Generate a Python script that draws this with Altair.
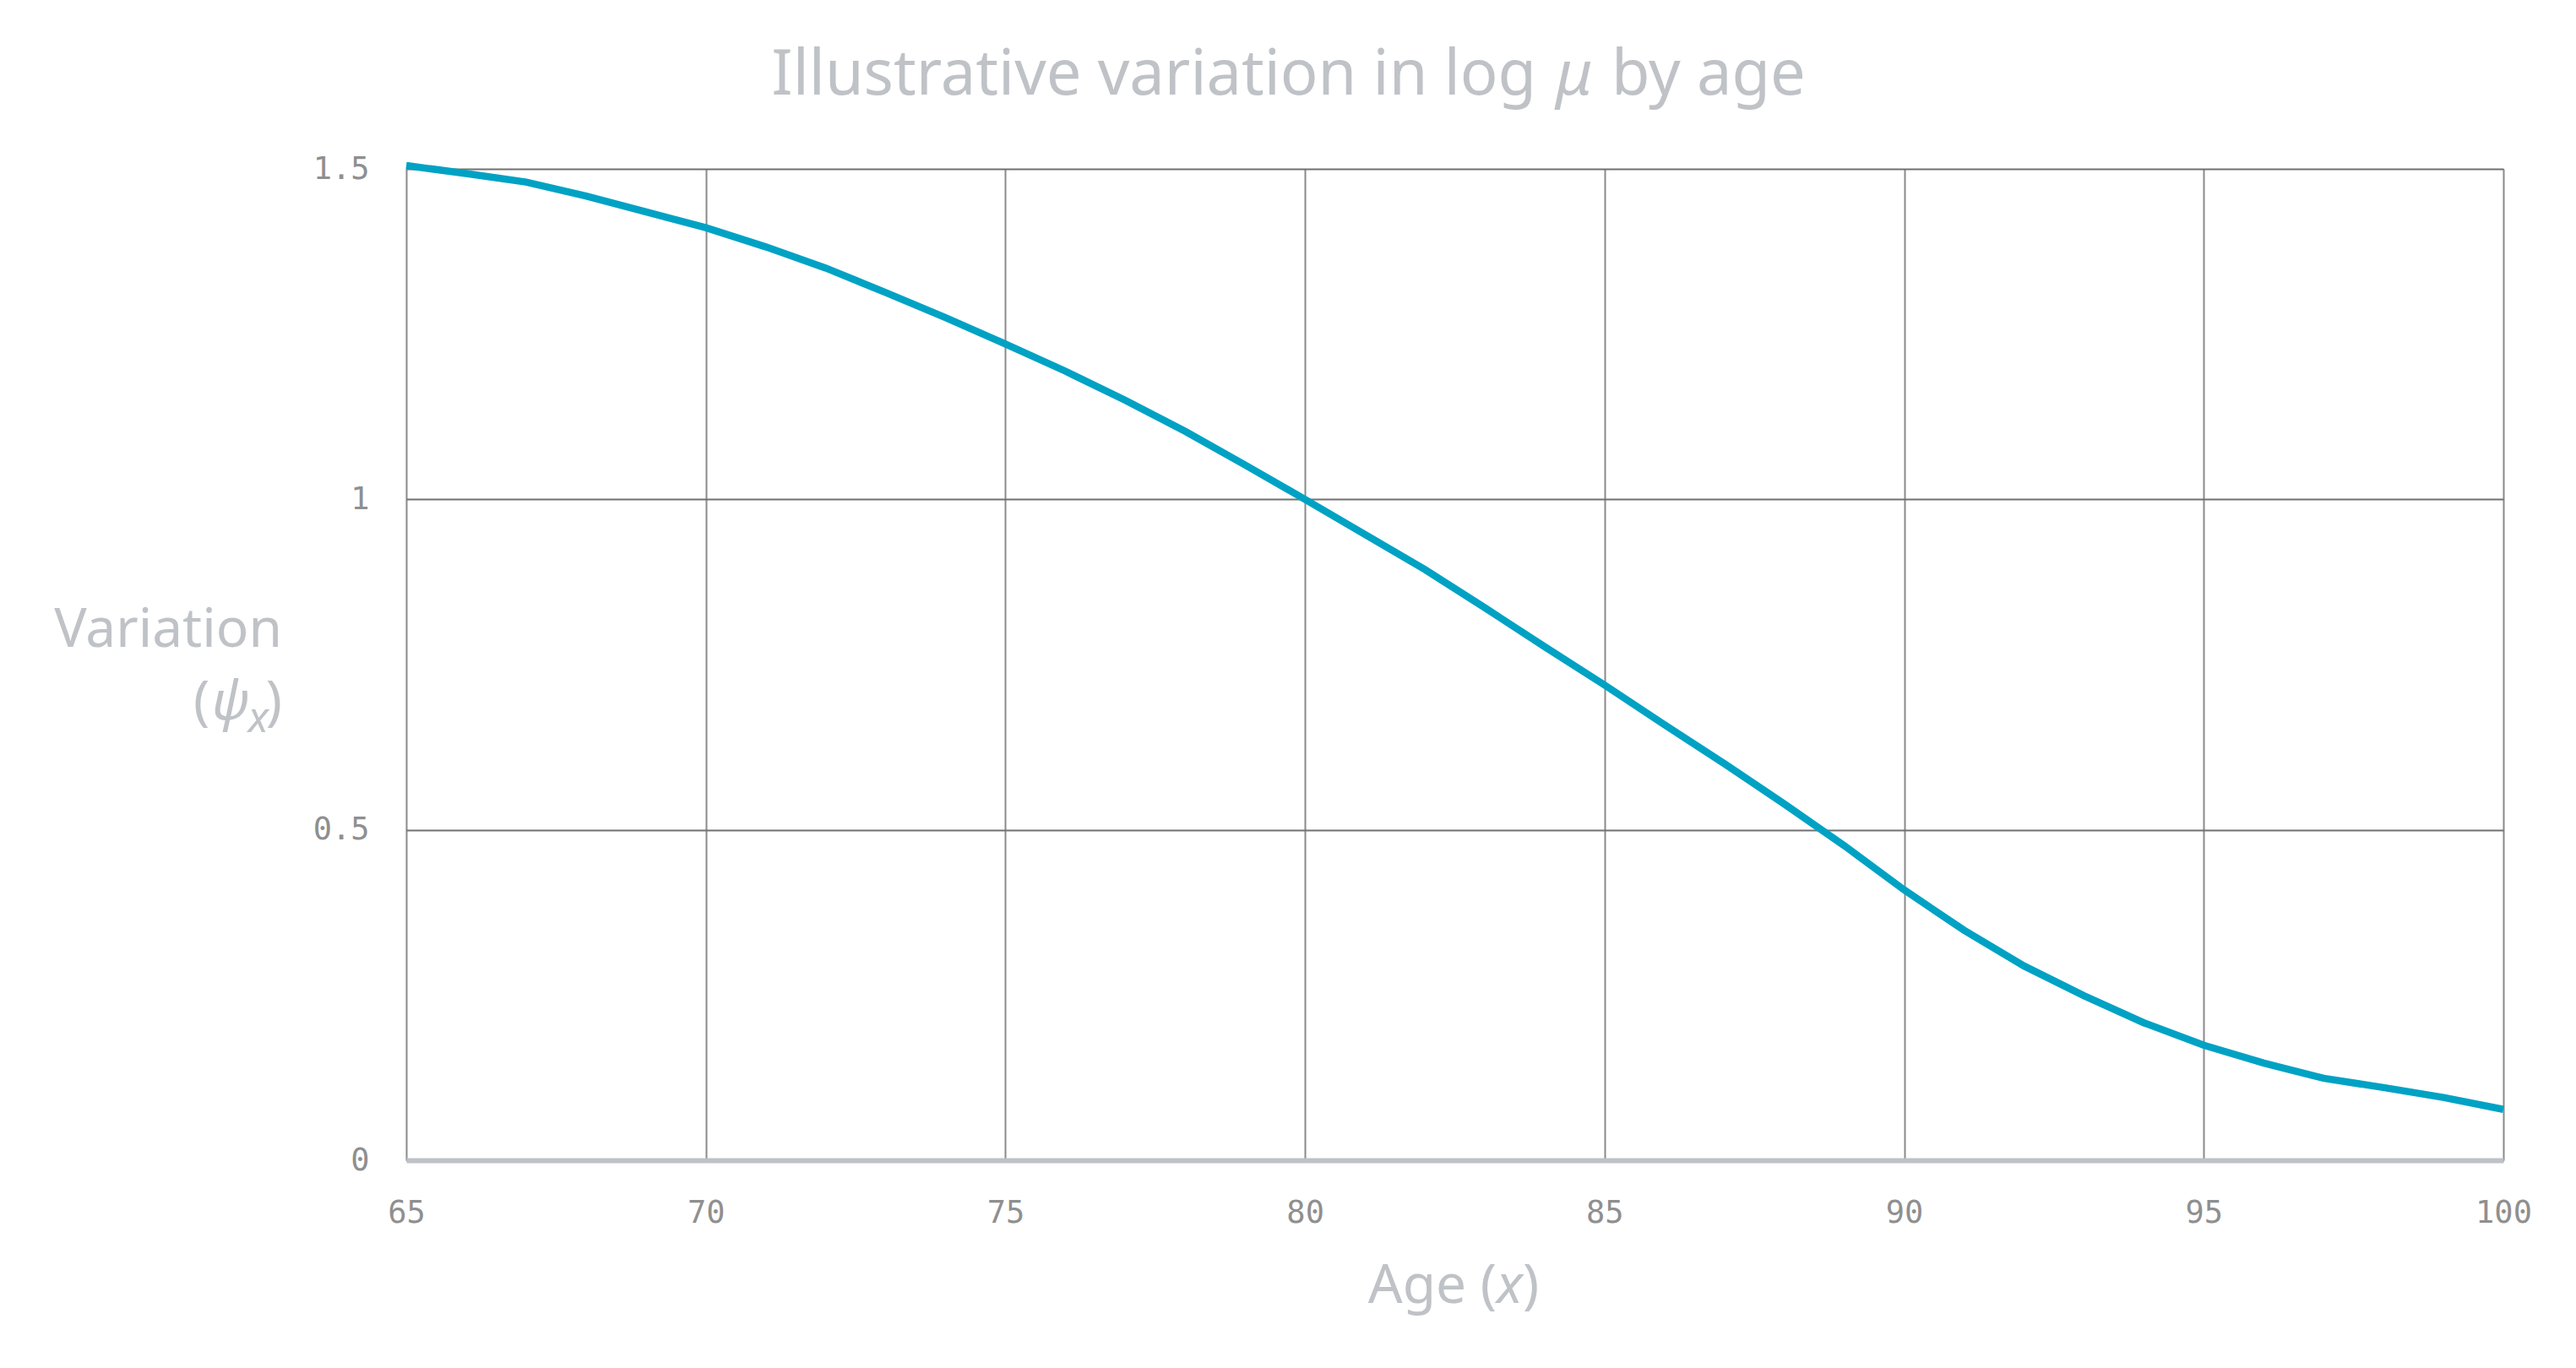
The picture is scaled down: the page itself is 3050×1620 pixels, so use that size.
import altair as alt
import pandas as pd

# ---- data ----
ages = list(range(65, 101))
psi = [1.505, 1.493, 1.480, 1.459, 1.435, 1.411, 1.382, 1.350, 1.313, 1.275,
       1.235, 1.194, 1.150, 1.103, 1.052, 1.000, 0.947, 0.894, 0.836, 0.777,
       0.719, 0.659, 0.600, 0.539, 0.476, 0.409, 0.348, 0.294, 0.249, 0.208,
       0.174, 0.147, 0.124, 0.110, 0.095, 0.077]
x_ticks = [65, 70, 75, 80, 85, 90, 95, 100]
y_ticks = [0, 0.5, 1, 1.5]

title_parts = ["Illustrative variation in log", "μ", "by age"]
xtitle_parts = ["Age (", "x", ")"]
ytitle_parts = ["Variation", "(", "ψ", "x", ")"]

LINE = "#00A2C4"
TXT = "#BFC2C6"
TICK = "#8F8F8F"
SANS = "Noto Sans"
MONO = "DejaVu Sans Mono"

W, H = 2483, 1174

df = pd.DataFrame({"age": ages, "psi": psi})

line = alt.Chart(df).mark_line(color=LINE, strokeWidth=8.5).encode(
    x=alt.X("age:Q", scale=alt.Scale(domain=[65, 100], nice=False, zero=False),
            axis=alt.Axis(values=x_ticks, title=None, ticks=False, labelPadding=44,
                          labelFlush=False,
                          labelFont=MONO, labelFontSize=37, labelColor=TICK,
                          domainColor="#BEC1C5", domainWidth=6,
                          grid=True, gridColor="#8A8A8A", gridWidth=2)),
    y=alt.Y("psi:Q", scale=alt.Scale(domain=[0, 1.5], nice=False),
            axis=alt.Axis(values=y_ticks, title=None, ticks=False, labelPadding=44,
                          format="~g", domain=False,
                          labelFont=MONO, labelFontSize=37, labelColor=TICK,
                          grid=True, gridColor="#707070", gridWidth=2)),
)


def txt(text, x, y, size, align="left", style="normal"):
    return alt.Chart(pd.DataFrame({"t": [text]})).mark_text(
        font=SANS, fontSize=size, fontStyle=style, align=align,
        baseline="alphabetic", color=TXT
    ).encode(x=alt.value(x), y=alt.value(y), text="t:N")


layers = [
    line,
    # chart title
    txt(title_parts[0], 1338, -88, 74, align="right"),
    txt(title_parts[1], 1361, -88, 74, align="left", style="italic"),
    txt(title_parts[2], 1427, -88, 74, align="left"),
    # x-axis title
    txt(xtitle_parts[0], 1291, H + 169, 64, align="right"),
    txt(xtitle_parts[1], 1291, H + 169, 64, align="left", style="italic"),
    txt(xtitle_parts[2], 1322, H + 169, 64, align="left"),
    # y-axis title
    txt(ytitle_parts[0], -147, 566, 64, align="right"),
    txt(ytitle_parts[1], -252, 652, 64, align="left"),
    txt(ytitle_parts[2], -186, 652, 64, align="right", style="italic"),
    txt(ytitle_parts[3], -163, 667, 50, align="right", style="italic"),
    txt(ytitle_parts[4], -147, 652, 64, align="right"),
]

chart = alt.layer(*layers).properties(
    width=W, height=H,
    autosize=alt.AutoSizeParams(type="none"),
    padding={"left": 473, "top": 192, "right": 70, "bottom": 230},
).configure_view(stroke=None).configure(background="white")

chart.save("out.html", embed_options={"renderer": "svg", "actions": False})
